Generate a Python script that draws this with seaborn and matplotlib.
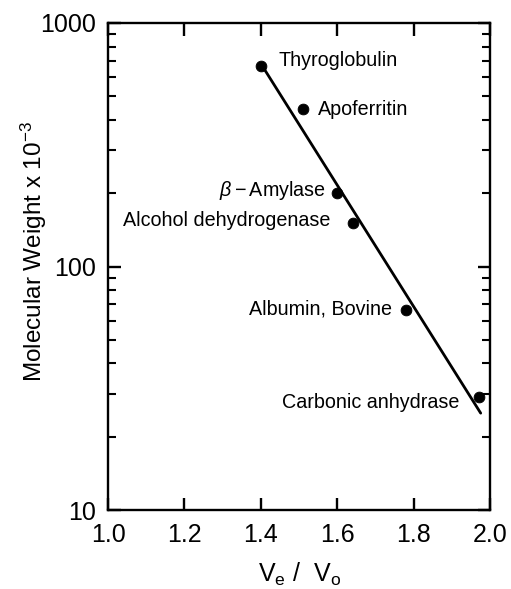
import numpy as np
import pandas as pd
import matplotlib
matplotlib.use("Agg")
import matplotlib.pyplot as plt
import seaborn as sns
from matplotlib.ticker import LogLocator, FixedLocator, NullFormatter

# calibration standards
proteins = ["Thyroglobulin", "Apoferritin", r"$\beta-$Amylase",
            "Alcohol dehydrogenase", "Albumin, Bovine", "Carbonic anhydrase"]
ve_vo = [1.40, 1.51, 1.60, 1.64, 1.78, 1.97]
mw = [665, 443, 200, 151, 66, 29]

# fitted line endpoints
fit_x = [1.40, 1.975]
fit_y = [680, 25]

sns.set_style("ticks")
plt.rcParams["font.family"] = ["Liberation Sans", "DejaVu Sans"]
plt.rcParams["mathtext.fontset"] = "custom"
plt.rcParams["mathtext.rm"] = "Liberation Sans"
plt.rcParams["mathtext.it"] = "Liberation Sans:italic"
for k in ["text.color", "axes.labelcolor", "xtick.color", "ytick.color", "axes.edgecolor"]:
    plt.rcParams[k] = "black"

df = pd.DataFrame({"protein": proteins, "x": ve_vo, "y": mw})
fit = pd.DataFrame({"x": fit_x, "y": fit_y})

fig = plt.figure(figsize=(5.11, 5.89), dpi=100)
ax = fig.add_axes([0.2114, 0.134, 0.748, 0.827])

sns.lineplot(data=fit, x="x", y="y", color="black", lw=2.0, ax=ax)
sns.scatterplot(data=df, x="x", y="y", color="black", s=60, edgecolor="black", zorder=3, ax=ax)

ax.set_yscale("log")
ax.set_xlim(1.0, 2.0)
ax.set_ylim(10, 1000)
ax.set_xticks([1.0, 1.2, 1.4, 1.6, 1.8, 2.0])
ax.set_xticklabels(["1.0", "1.2", "1.4", "1.6", "1.8", "2.0"])
ax.yaxis.set_major_locator(FixedLocator([10, 100, 1000]))
ax.set_yticklabels(["10", "100", "1000"])
ax.yaxis.set_minor_locator(LogLocator(base=10, subs=np.arange(2, 10)))
ax.yaxis.set_minor_formatter(NullFormatter())

for sp in ax.spines.values():
    sp.set_linewidth(1.7)
    sp.set_visible(True)
ax.tick_params(which="major", direction="in", length=9, width=1.7,
               top=True, right=True, labelsize=18)
ax.tick_params(axis="x", which="major", pad=9)
ax.tick_params(axis="y", which="major", pad=9)
ax.tick_params(which="minor", direction="in", length=5.5, width=1.5,
               top=False, right=True)

ax.set_xlabel(r"V$_{\rm e}$ /  V$_{\rm o}$", fontsize=18)
ax.set_ylabel(r"Molecular Weight x 10$^{-3}$", fontsize=17.5)
ax.xaxis.set_label_coords(0.50, -0.105)
ax.yaxis.set_label_coords(-0.155, 0.53)

offsets = [(18, 6, "left"), (15, 0, "left"), (-12, 3, "right"),
           (-22, 2, "right"), (-14, 1, "right"), (-19, -5, "right")]
for (name, x, y), (dx, dy, ha) in zip(zip(proteins, ve_vo, mw), offsets):
    ax.annotate(name, (x, y), xytext=(dx, dy), textcoords="offset pixels",
                ha=ha, va="center", fontsize=14.2)

fig.savefig("out.png", dpi=100)
